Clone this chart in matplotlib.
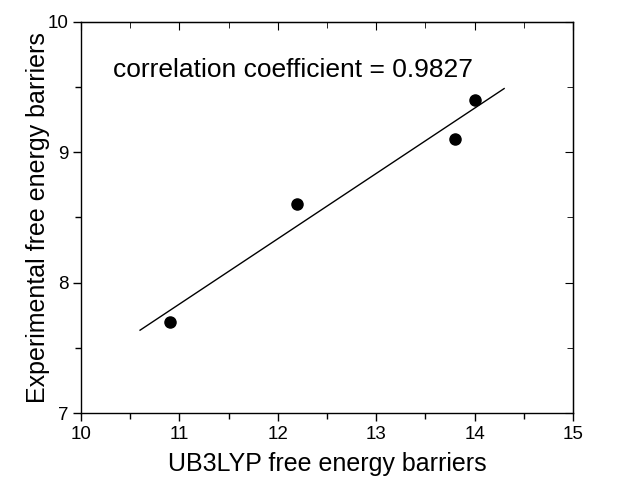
import matplotlib.pyplot as plt
import numpy as np
from matplotlib.ticker import MultipleLocator

plt.rcParams['font.family'] = ['Liberation Sans', 'DejaVu Sans']

ub3lyp = [10.9, 12.2, 13.8, 14.0]
experimental = [7.7, 8.6, 9.1, 9.4]
fit_range = [10.6, 14.3]
r_text = "correlation coefficient = 0.9827"

fig = plt.figure(figsize=(6.17, 4.83), dpi=100)
ax = fig.add_axes([0.1313, 0.1449, 0.7974, 0.8096])

slope, icpt = np.polyfit(ub3lyp, experimental, 1)
xf = np.array(fit_range)
ax.plot(xf, slope * xf + icpt, color='k', lw=1)
ax.plot(ub3lyp, experimental, 'o', color='k', ms=8)

ax.set_xlim(10, 15)
ax.set_ylim(7, 10)
ax.xaxis.set_major_locator(MultipleLocator(1))
ax.xaxis.set_minor_locator(MultipleLocator(0.5))
ax.yaxis.set_major_locator(MultipleLocator(1))
ax.yaxis.set_minor_locator(MultipleLocator(0.5))

ax.tick_params(which='both', direction='out')
ax.tick_params(which='major', length=6, width=1, labelsize=13.5, pad=3)
ax.tick_params(which='minor', length=4, width=1)

sec_x = ax.secondary_xaxis('top')
sec_x.xaxis.set_major_locator(MultipleLocator(1))
sec_x.xaxis.set_minor_locator(MultipleLocator(0.5))
sec_x.tick_params(which='both', direction='in', labeltop=False)
sec_x.tick_params(which='major', length=6)
sec_x.tick_params(which='minor', length=4)
sec_y = ax.secondary_yaxis('right')
sec_y.yaxis.set_major_locator(MultipleLocator(1))
sec_y.yaxis.set_minor_locator(MultipleLocator(0.5))
sec_y.tick_params(which='both', direction='in', labelright=False)
sec_y.tick_params(which='major', length=6)
sec_y.tick_params(which='minor', length=4)

for s in ax.spines.values():
    s.set_linewidth(1)

ax.set_xlabel('UB3LYP free energy barriers', fontsize=18, labelpad=7)
ax.set_ylabel('Experimental free energy barriers', fontsize=18, labelpad=-1.5)
ax.text(0.065, 0.877, r_text, transform=ax.transAxes, fontsize=19, va='center')

fig.savefig('out.png', dpi=100)
